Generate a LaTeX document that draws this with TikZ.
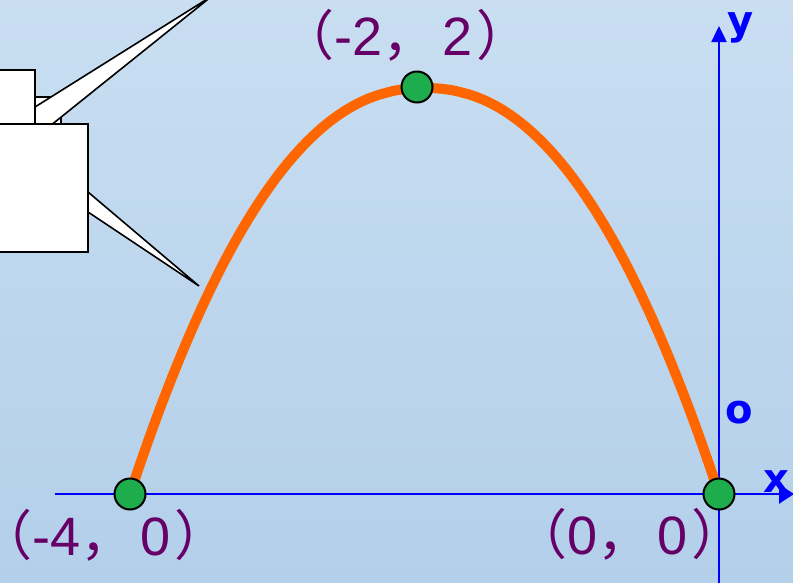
\documentclass[tikz,border=0pt]{standalone}
\usepackage{fontspec}
\setmainfont{Liberation Sans}
\newfontfamily\cjk{Noto Sans CJK SC}
\newfontfamily\cjkhalf{Noto Sans CJK SC}[RawFeature=+halt]
\newfontfamily\axisfont{DejaVu Sans}
\usetikzlibrary{arrows.meta}
\definecolor{bgtop}{RGB}{201,222,241}
\definecolor{bgbot}{RGB}{179,207,234}
\definecolor{curveorange}{RGB}{255,102,0}
\definecolor{dotgreen}{RGB}{30,173,76}
\definecolor{lblpurple}{RGB}{102,0,102}
\definecolor{axisblue}{RGB}{0,0,255}
\newcommand{\ptxt}[2]{{\cjkhalf （}#1{\cjk ，}\kern6pt #2\kern4pt{\cjk ）}}
\tikzset{
  axis/.style={draw=axisblue, line width=2.5pt},
  dotnode/.style={circle, fill=dotgreen, draw=black, line width=2pt, minimum size=31pt, inner sep=0pt},
  ptlabel/.style={text=lblpurple, anchor=base west, inner sep=0pt, font=\fontsize{54}{62}\selectfont},
  axlabel/.style={text=axisblue, anchor=base, inner sep=0pt, font=\axisfont\bfseries\fontsize{40}{48}\selectfont},
  callbox/.style={fill=white, draw=black, line width=1.6pt},
  wedgefill/.style={fill=white},
  wedgeline/.style={draw=black, line width=1.6pt, line join=miter}
}
\begin{document}
\begin{tikzpicture}[x=1pt, y=-1pt]
\useasboundingbox (0,0) rectangle (793,582);
\shade[top color=bgtop, bottom color=bgbot] (0,0) rectangle (793,582);

% callout shapes (top left)
\draw[callbox] (-5,97) rectangle (61,200);
\fill[wedgefill] (35,107) -- (212,-4) -- (35,138) -- cycle;
\draw[wedgeline] (35,107) -- (212,-4) -- (35,138);
\draw[callbox] (-5,70) rectangle (35,209);
\fill[wedgefill] (88,192) -- (199,286) -- (88,212) -- cycle;
\draw[wedgeline] (88,192) -- (199,286) -- (88,212);
\draw[callbox] (-5,124) rectangle (88,252);

% axes
\coordinate (xs) at (55,494);
\coordinate (xe) at (794,494);
\coordinate (ys) at (719,584);
\coordinate (ye) at (719,26);
\draw[axis, -{Triangle[length=15pt, width=19pt]}] (xs) -- (xe);
\draw[axis, -{Triangle[length=16pt, width=15pt]}] (ys) -- (ye);
\node[axlabel] (ylab) at (741,34) {y};
\node[axlabel] (xlab) at (776,492) {x};
\node[axlabel] (olab) at (739,423) {o};

% parabola
\draw[curveorange, line width=10pt]
  plot[domain=-1:1, samples=120, smooth] ({424.5+294.5*\x}, {88+406*pow(abs(\x)+0.00001,2.2)});

% points
\node[dotnode] (left) at (130,494) {};
\node[dotnode] (origin) at (719,494) {};
\node[dotnode] (vertex) at (417,87) {};

% labels
\node[ptlabel] (vlab) at (307,55) {\ptxt{-2}{2}};
\node[ptlabel] (llab) at (5,555) {\ptxt{-4}{0}};
\node[ptlabel] (olab2) at (540,554) {\ptxt{0}{0}};
\end{tikzpicture}
\end{document}
